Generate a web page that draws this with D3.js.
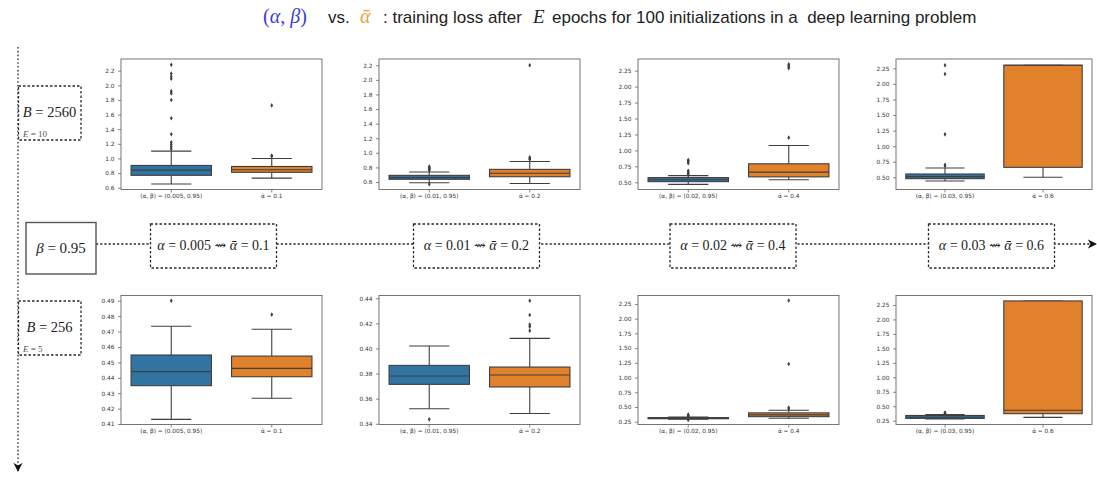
<!DOCTYPE html>
<html><head><meta charset="utf-8">
<script src="https://cdn.jsdelivr.net/npm/d3@7"></script>
<style>
body{margin:0;background:#fff;}
svg{display:block;}
text{white-space:pre;}
</style></head><body>
<svg id="fig" width="1097" height="483"></svg>
<script>
// learning-rate settings, one column each
const alphaValues = ["0.005", "0.01", "0.02", "0.03"];
const betaValue = "0.95";
const alphaTildeValues = ["0.1", "0.2", "0.4", "0.6"];
// rows: batch size and number of epochs
const batchSizes = ["2560", "256"];
const epochCounts = ["10", "5"];

// box statistics per column: [lower whisker, Q1, median, Q3, upper whisker]
const topBlueBox = [
  [0.65, 0.769, 0.84, 0.904, 1.10],
  [0.59, 0.637, 0.66, 0.691, 0.736],
  [0.468, 0.51, 0.54, 0.574, 0.605],
  [0.44, 0.478, 0.51, 0.553, 0.65]
];
const topBlueOut = [
  [2.28, 2.16, 2.12, 2.09, 1.92, 1.89, 1.80, 1.55, 1.33, 1.22, 1.19, 1.16, 1.13],
  [0.76, 0.77, 0.78, 0.79, 0.80, 0.81, 0.57],
  [0.62, 0.64, 0.66, 0.68, 0.80, 0.82, 0.84, 0.85],
  [0.68, 0.70, 1.19, 2.16, 2.30]
];
const topOrangeBox = [
  [0.73, 0.81, 0.845, 0.89, 1.00],
  [0.58, 0.672, 0.72, 0.773, 0.88],
  [0.54, 0.585, 0.66, 0.79, 1.077],
  [0.50, 0.66, 2.30, 2.30, 2.30]
];
const topOrangeOut = [
  [1.03, 1.04, 1.725],
  [0.91, 0.92, 0.94, 2.20],
  [1.20, 2.29, 2.31, 2.33, 2.35],
  []
];
const bottomBlueBox = [
  [0.413, 0.4349, 0.444, 0.4548, 0.4734],
  [0.352, 0.3714, 0.378, 0.3865, 0.402],
  [0.29, 0.30, 0.31, 0.32, 0.33],
  [0.28, 0.29, 0.31, 0.34, 0.355]
];
const bottomBlueOut = [
  [0.490],
  [0.3435],
  [0.34, 0.35, 0.36, 0.37, 0.28],
  [0.37, 0.38, 0.39]
];
const bottomOrangeBox = [
  [0.4267, 0.4407, 0.4461, 0.4541, 0.4715],
  [0.3482, 0.3693, 0.3788, 0.3852, 0.408],
  [0.307, 0.335, 0.365, 0.40, 0.443],
  [0.308, 0.371, 0.43, 2.32, 2.32]
];
const bottomOrangeOut = [
  [0.481],
  [0.4142, 0.4174, 0.419, 0.4267, 0.438],
  [0.465, 0.488, 1.23, 2.31],
  []
];

// y-axis limits and tick values
const topDomains = [[0.575, 2.36], [0.497, 2.286], [0.387, 2.433], [0.304, 2.40]];
const bottomDomains = [[0.4097, 0.4934], [0.3394, 0.4422], [0.202, 2.394], [0.184, 2.414]];
const topTicks = [
  [0.6, 0.8, 1.0, 1.2, 1.4, 1.6, 1.8, 2.0, 2.2],
  [0.6, 0.8, 1.0, 1.2, 1.4, 1.6, 1.8, 2.0, 2.2],
  [0.5, 0.75, 1.0, 1.25, 1.5, 1.75, 2.0, 2.25],
  [0.5, 0.75, 1.0, 1.25, 1.5, 1.75, 2.0, 2.25]
];
const bottomTicks = [
  [0.41, 0.42, 0.43, 0.44, 0.45, 0.46, 0.47, 0.48, 0.49],
  [0.34, 0.36, 0.38, 0.40, 0.42, 0.44],
  [0.25, 0.5, 0.75, 1.0, 1.25, 1.5, 1.75, 2.0, 2.25],
  [0.25, 0.5, 0.75, 1.0, 1.25, 1.5, 1.75, 2.0, 2.25]
];
const topFormats = [".1f", ".1f", ".2f", ".2f"];
const bottomFormats = [".2f", ".2f", ".2f", ".2f"];

const svg = d3.select("#fig");
const SANS = "'DejaVu Sans', sans-serif";
const SERIF = "'Liberation Serif', 'DejaVu Serif', serif";
const ARIAL = "'Liberation Sans', Arial, sans-serif";
const boxFill = ["#3274a1", "#e1812c"];
const lineGray = "#3f3f3f";

// panel placement
const colX = [[121, 322], [379, 580], [638, 839], [896, 1092]];
const rowY = [[59, 189.5], [295.5, 424.5]];

const rows = [
  { boxes: [topBlueBox, topOrangeBox], outs: [topBlueOut, topOrangeOut],
    domains: topDomains, ticks: topTicks, fmts: topFormats },
  { boxes: [bottomBlueBox, bottomOrangeBox], outs: [bottomBlueOut, bottomOrangeOut],
    domains: bottomDomains, ticks: bottomTicks, fmts: bottomFormats }
];

const diamond = "M0,-2.3L1.4,0L0,2.3L-1.4,0Z";

rows.forEach((row, r) => {
  alphaValues.forEach((a, c) => {
    const [x0, x1] = colX[c];
    const [y0, y1] = rowY[r];
    const g = svg.append("g");
    const x = d3.scaleBand().domain([0, 1]).range([x0, x1]);
    const y = d3.scaleLinear().domain(row.domains[c]).range([y1, y0]);
    const bw = x.bandwidth() * 0.8;
    const cw = bw * 0.5;

    g.append("rect").attr("x", x0).attr("y", y0)
      .attr("width", x1 - x0).attr("height", y1 - y0).attr("fill", "#fff");

    [0, 1].forEach(s => {
      const [wl, q1, md, q3, wh] = row.boxes[s][c];
      const cx = x(s) + x.bandwidth() / 2;
      const lg = g.append("g").attr("stroke", lineGray).attr("stroke-width", 1.1);
      lg.append("line").attr("x1", cx).attr("x2", cx).attr("y1", y(q1)).attr("y2", y(wl));
      lg.append("line").attr("x1", cx).attr("x2", cx).attr("y1", y(q3)).attr("y2", y(wh));
      lg.append("line").attr("x1", cx - cw / 2).attr("x2", cx + cw / 2).attr("y1", y(wl)).attr("y2", y(wl));
      lg.append("line").attr("x1", cx - cw / 2).attr("x2", cx + cw / 2).attr("y1", y(wh)).attr("y2", y(wh));
      lg.append("rect").attr("x", cx - bw / 2).attr("y", y(q3))
        .attr("width", bw).attr("height", Math.max(0.5, y(q1) - y(q3)))
        .attr("fill", boxFill[s]);
      lg.append("line").attr("x1", cx - bw / 2).attr("x2", cx + bw / 2).attr("y1", y(md)).attr("y2", y(md));
      g.selectAll(null).data(row.outs[s][c]).join("path")
        .attr("d", diamond)
        .attr("transform", d => `translate(${cx},${y(d)})`)
        .attr("fill", lineGray);
    });

    const ya = d3.axisLeft(y).tickValues(row.ticks[c])
      .tickFormat(d3.format(row.fmts[c])).tickSize(3).tickPadding(3.5);
    const yg = g.append("g").attr("transform", `translate(${x0},0)`).call(ya);
    const labels = [`(α, β) = (${a}, ${betaValue})`, `α\u0304 = ${alphaTildeValues[c]}`];
    const xa = d3.axisBottom(x).tickFormat(d => labels[d]).tickSize(3).tickPadding(1.5);
    const xg = g.append("g").attr("transform", `translate(0,${y1})`).call(xa);
    [yg, xg].forEach(ax => {
      ax.select(".domain").remove();
      ax.selectAll(".tick line").attr("stroke", "#555").attr("stroke-width", 0.7);
      ax.selectAll(".tick text").attr("fill", "#333")
        .style("font-family", SANS).style("font-size", "5.8px");
    });

    g.append("rect").attr("x", x0).attr("y", y0)
      .attr("width", x1 - x0).attr("height", y1 - y0)
      .attr("fill", "none").attr("stroke", "#666").attr("stroke-width", 0.9);
  });
});

// title
const title = svg.append("g").attr("transform", "translate(0,23)");
const tm = title.append("text").attr("x", 263).attr("fill", "#3c3cd8")
  .style("font-family", SERIF).style("font-size", "20px");
tm.append("tspan").text("(");
tm.append("tspan").style("font-style", "italic").text("α");
tm.append("tspan").text(", ");
tm.append("tspan").style("font-style", "italic").text("β");
tm.append("tspan").text(")");
title.append("text").attr("x", 328).attr("fill", "#222")
  .style("font-family", ARIAL).style("font-size", "17px").text("vs.");
title.append("text").attr("x", 360).attr("fill", "#f0a040")
  .style("font-family", SERIF).style("font-size", "20px").style("font-style", "italic")
  .text("α\u0304");
title.append("text").attr("x", 383).attr("fill", "#222")
  .style("font-family", ARIAL).style("font-size", "17px").text(": training loss after");
title.append("text").attr("x", 533).attr("fill", "#222")
  .style("font-family", SERIF).style("font-size", "19px").style("font-style", "italic")
  .text("E");
title.append("text").attr("x", 552).attr("fill", "#222")
  .style("font-family", ARIAL).style("font-size", "17px")
  .text("epochs for 100 initializations in a  deep learning problem");

// flow diagram: batch-size axis (vertical) and learning-rate axis (horizontal)
const ink = "#2a2a2a";
const defs = svg.append("defs");
defs.append("marker").attr("id", "arrow").attr("viewBox", "0 0 10 10")
  .attr("refX", 9).attr("refY", 5).attr("markerWidth", 7).attr("markerHeight", 7)
  .attr("orient", "auto")
  .append("path").attr("d", "M0,0L10,5L0,10L3,5Z").attr("fill", "#111");

svg.append("line").attr("x1", 18).attr("x2", 18).attr("y1", 47).attr("y2", 471)
  .attr("stroke", ink).attr("stroke-width", 1.3).attr("stroke-dasharray", "1.6,2.2")
  .attr("marker-end", "url(#arrow)");
svg.append("line").attr("x1", 96).attr("x2", 1096).attr("y1", 244).attr("y2", 244)
  .attr("stroke", ink).attr("stroke-width", 1.3).attr("stroke-dasharray", "2.2,2")
  .attr("marker-end", "url(#arrow)");

// batch-size boxes
const bBoxY = [86, 301];
batchSizes.forEach((b, i) => {
  const y0 = bBoxY[i];
  svg.append("rect").attr("x", 18.5).attr("y", y0).attr("width", 62.5).attr("height", 54)
    .attr("fill", "#fff").attr("stroke", ink).attr("stroke-width", 1.3)
    .attr("stroke-dasharray", "2.5,2");
  const t = svg.append("text").attr("x", 49.5).attr("y", y0 + 31).attr("text-anchor", "middle")
    .attr("fill", "#222").style("font-family", SERIF).style("font-size", "14.5px");
  t.append("tspan").style("font-style", "italic").text("B");
  t.append("tspan").text(" = " + b);
  const e = svg.append("text").attr("x", 23).attr("y", y0 + 51).attr("fill", "#555")
    .style("font-family", SERIF).style("font-size", "9px");
  e.append("tspan").style("font-style", "italic").text("E");
  e.append("tspan").text(" = " + epochCounts[i]);
});

// momentum box
svg.append("rect").attr("x", 26).attr("y", 222.5).attr("width", 70).attr("height", 51.5)
  .attr("fill", "#fff").attr("stroke", "#555").attr("stroke-width", 1.4);
const bt = svg.append("text").attr("x", 61).attr("y", 253).attr("text-anchor", "middle")
  .attr("fill", "#222").style("font-family", SERIF).style("font-size", "15px");
bt.append("tspan").style("font-style", "italic").text("β");
bt.append("tspan").text(" = " + betaValue);

// learning-rate boxes
const aBoxCx = [213.5, 476.5, 733, 991.5];
alphaValues.forEach((a, i) => {
  const cx = aBoxCx[i];
  svg.append("rect").attr("x", cx - 63).attr("y", 224).attr("width", 126).attr("height", 44)
    .attr("fill", "#fff").attr("stroke", ink).attr("stroke-width", 1.3)
    .attr("stroke-dasharray", "2.5,2");
  const t = svg.append("text").attr("x", cx).attr("y", 249.5).attr("text-anchor", "middle")
    .attr("fill", "#222").style("font-family", SERIF).style("font-size", "14px");
  t.append("tspan").style("font-style", "italic").text("α");
  t.append("tspan").text(" = " + a + " ⇝ ");
  t.append("tspan").style("font-style", "italic").text("α\u0304");
  t.append("tspan").text(" = " + alphaTildeValues[i]);
});
</script>
</body></html>
